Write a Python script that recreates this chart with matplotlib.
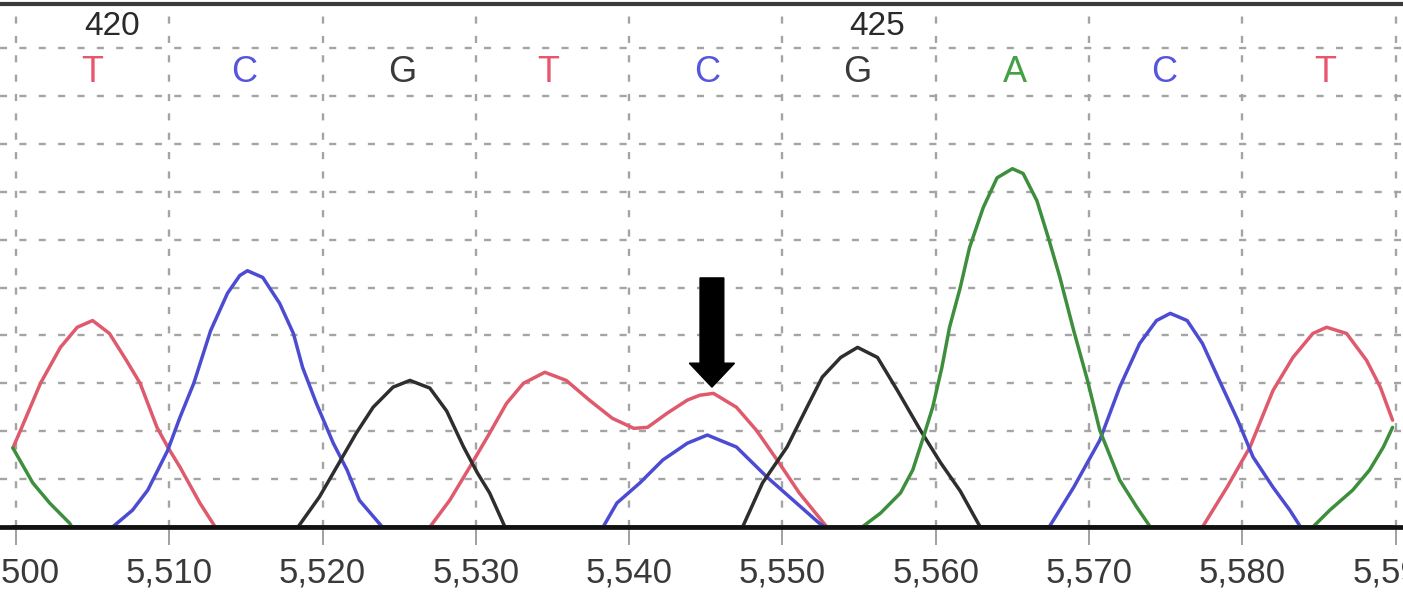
import matplotlib.pyplot as plt
from matplotlib.ticker import FixedLocator, FuncFormatter

# trace samples (scan position, signal)
t_scan = [5499.8, 5500.3, 5501.6, 5502.9, 5504.0, 5505.0, 5506.1, 5507.2, 5508.1, 5509.2, 5509.9, 5510.7, 5512.0, 5513.0,
          5527.0, 5528.3, 5529.6, 5530.9, 5532.0, 5533.1, 5534.5, 5535.9, 5537.4, 5538.9, 5540.3, 5541.2, 5542.5, 5543.8,
          5544.6, 5545.5, 5547.0, 5548.3, 5549.8, 5551.1, 5552.9,
          5577.4, 5579.0, 5580.5, 5582.0, 5583.3, 5584.6, 5585.5, 5586.8, 5588.1, 5589.0, 5589.8]
t_sig = [165, 202, 300, 375, 417, 431, 404, 348, 300, 208, 167, 125, 50, 0,
         0, 56, 125, 196, 258, 300, 323, 306, 265, 227, 206, 208, 238, 265,
         275, 279, 250, 202, 133, 71, 0,
         0, 83, 167, 285, 354, 404, 417, 404, 348, 292, 223]

c_scan = [5499.8, 5506.3, 5507.6, 5508.6, 5509.9, 5510.7, 5511.6, 5512.7, 5513.8, 5514.6, 5515.1, 5516.1, 5517.2,
          5518.1, 5518.7, 5519.6, 5520.7, 5521.6, 5522.4, 5523.9,
          5538.3, 5539.2, 5540.7, 5542.2, 5543.8, 5545.1, 5547.0, 5549.0, 5550.7, 5552.4, 5552.8,
          5567.4, 5569.0, 5570.7, 5572.0, 5573.3, 5574.4, 5575.3, 5576.4, 5577.4, 5578.5, 5579.7, 5580.7, 5582.0,
          5583.1, 5583.8, 5589.8]
c_sig = [0, 0, 35, 77, 160, 229, 300, 410, 488, 525, 535, 521, 467,
         404, 333, 258, 175, 119, 56, 0,
         0, 50, 92, 140, 175, 192, 167, 104, 56, 8, 0,
         0, 83, 181, 292, 383, 431, 446, 431, 383, 306, 223, 146, 83,
         35, 0, 0]

g_scan = [5499.8, 5518.4, 5519.8, 5521.1, 5522.2, 5523.3, 5524.6, 5525.7, 5527.0, 5528.1, 5529.2, 5530.1, 5530.9, 5531.9,
          5547.4, 5548.7, 5550.3, 5551.6, 5552.6, 5553.8, 5554.9, 5556.2, 5557.5, 5559.0, 5560.3, 5561.6, 5562.9, 5589.8]
g_sig = [0, 0, 63, 135, 196, 250, 292, 306, 290, 242, 167, 113, 71, 0,
         0, 92, 167, 250, 313, 354, 375, 354, 285, 202, 135, 75, 0, 0]

a_scan = [5499.8, 5501.1, 5502.2, 5503.5, 5503.65,
          5555.2, 5556.4, 5557.7, 5558.5, 5559.2, 5559.8, 5560.4, 5560.9, 5561.6, 5562.2, 5563.1, 5564.0,
          5565.0, 5565.7, 5566.6, 5567.4, 5568.1, 5569.0, 5569.9, 5570.7, 5572.0, 5573.1, 5574.0,
          5584.6, 5585.7, 5587.2, 5588.3, 5589.2, 5589.8]
a_sig = [165, 92, 50, 8, 0,
         0, 29, 71, 119, 188, 250, 333, 417, 500, 583, 667, 729,
         748, 738, 681, 598, 521, 410, 306, 202, 98, 42, 0,
         0, 35, 77, 119, 167, 208]

# base calls
base_pos = [5505.0, 5514.9, 5525.2, 5534.7, 5545.1, 5554.9, 5565.2, 5574.9, 5585.4]
base_call = ['T', 'C', 'G', 'T', 'C', 'G', 'A', 'C', 'T']
base_num = {0: '420', 5: '425'}
arrow_scan = 5545.4

trace_col = {'T': '#de5a6c', 'C': '#4c4cd2', 'G': '#2e2e2e', 'A': '#3d8f3d'}
letter_col = {'T': '#e8566e', 'C': '#5555dd', 'G': '#3a3a3a', 'A': '#45a045'}

FONT = ['Liberation Sans', 'DejaVu Sans']


def main():
    fig = plt.figure(figsize=(14.03, 6.03), dpi=100)
    # axes from the baseline (y=527px) up to the top border (y=4px)
    ax = fig.add_axes([0, (603 - 527) / 603, 1, (527 - 4) / 603])
    ax.set_xlim(5498.96, 5590.48)
    ax.set_ylim(0, (527 - 4) / 47.9 * 100)

    # dashed grid
    for v in range(5500, 5600, 10):
        ax.axvline(v, color='#a4a4a4', lw=1.7, ls=(0, (3.0, 5.2)), zorder=1)
    for h in range(100, 1100, 100):
        ax.axhline(h, color='#a4a4a4', lw=1.7, ls=(0, (3.0, 5.2)), zorder=1)

    for scan, sig, b in [(t_scan, t_sig, 'T'), (c_scan, c_sig, 'C'),
                         (g_scan, g_sig, 'G'), (a_scan, a_sig, 'A')]:
        ax.plot(scan, sig, color=trace_col[b], lw=2.5, zorder=3,
                solid_joinstyle='round', solid_capstyle='round')

    # baseline
    ax.axhline(0, color='#111111', lw=3.4, zorder=5, clip_on=False)

    for i, (p, b) in enumerate(zip(base_pos, base_call)):
        ax.text(p, 948, b, color=letter_col[b], fontsize=26, family=FONT,
                ha='center', va='center', zorder=4)
        if i in base_num:
            ax.text(p + 1.3, 1044, base_num[i], color='#2a2a2a', fontsize=24,
                    family=FONT, ha='center', va='center', zorder=4)

    ax.arrow(arrow_scan, 520, 0, 292 - 520, width=1.55, head_width=2.95,
             head_length=50, length_includes_head=True, color='black', zorder=6)

    for s in ['left', 'right', 'bottom']:
        ax.spines[s].set_visible(False)
    ax.spines['top'].set_color('#3a3a3a')
    ax.spines['top'].set_linewidth(3)

    ax.yaxis.set_visible(False)
    ax.xaxis.set_major_locator(FixedLocator(list(range(5500, 5600, 10))))
    ax.xaxis.set_major_formatter(FuncFormatter(lambda v, p: f'{int(v):,}'))
    ax.tick_params(axis='x', direction='out', length=13, width=1.4, color='#a0a0a0',
                   pad=8, labelsize=25, labelcolor='#3a3a3a')
    for lab in ax.get_xticklabels():
        lab.set_family(FONT)

    fig.savefig('out.png', dpi=100)


if __name__ == "__main__":
    main()
